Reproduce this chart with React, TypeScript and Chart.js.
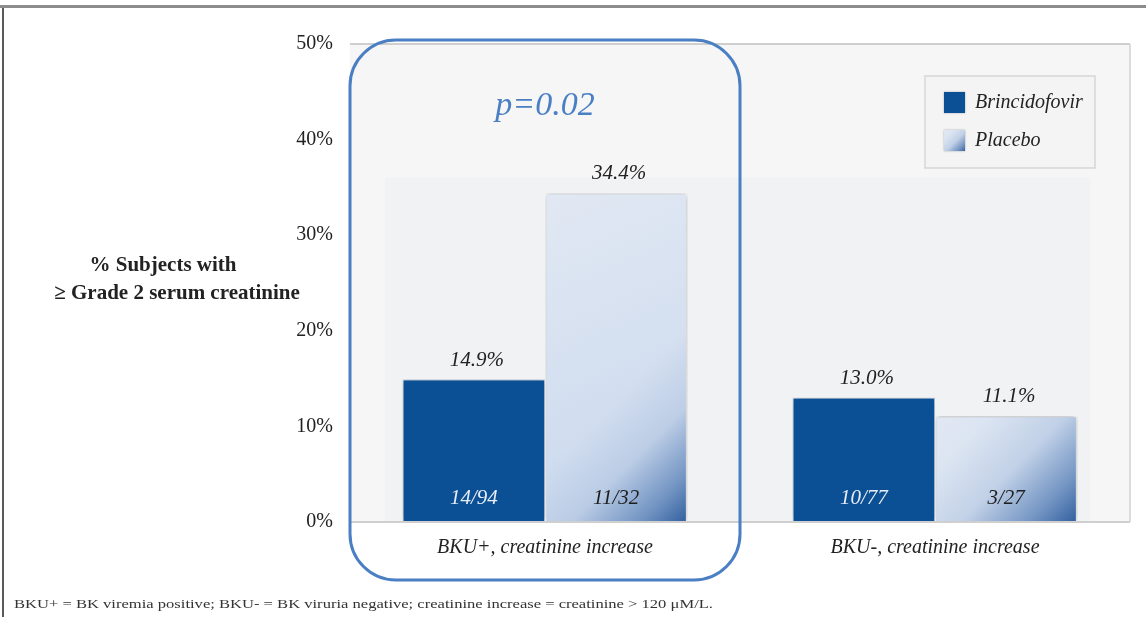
import { useEffect, useRef } from 'react';
import { Chart, registerables } from 'chart.js';

Chart.register(...registerables);

const categories = ['BKU+, creatinine increase', 'BKU-, creatinine increase'];
const seriesNames = ['Brincidofovir', 'Placebo'];
const brincidofovirValues = [14.9, 13.0];
const placeboValues = [34.4, 11.1];
const brincidofovirCounts = ['14/94', '10/77'];
const placeboCounts = ['11/32', '3/27'];
const yTickValues = [0, 10, 20, 30, 40, 50];
const pValueText = 'p=0.02';
const yTitleLines = ['% Subjects with', '\u2265 Grade 2 serum creatinine'];
const footnote =
  'BKU+ = BK viremia positive; BKU- = BK viruria negative; creatinine increase = creatinine > 120 \u03bcM/L.';

const SERIF = "'Liberation Serif', 'Times New Roman', serif";
const DARK_BLUE = '#0b4f94';
const HIGHLIGHT = '#4a7fc4';

function fillPlacebo(ctx: CanvasRenderingContext2D, l: number, t: number, r: number, b: number, d: number) {
  const g1 = ctx.createLinearGradient(l, t, r, b);
  g1.addColorStop(0, '#e1e8f3');
  g1.addColorStop(1, '#c8d7ed');
  ctx.fillStyle = g1;
  ctx.fillRect(l, t, r - l, b - t);
  const g2 = ctx.createLinearGradient(r - d, b - d, r, b);
  g2.addColorStop(0, 'rgba(60,106,168,0)');
  g2.addColorStop(0.4, 'rgba(60,106,168,0.12)');
  g2.addColorStop(0.75, 'rgba(60,106,168,0.6)');
  g2.addColorStop(1, 'rgba(52,97,160,1)');
  ctx.fillStyle = g2;
  ctx.fillRect(l, t, r - l, b - t);
}

const decorPlugin = {
  id: 'decor',
  beforeDraw(chart: any) {
    const { ctx, chartArea, width, height } = chart;
    const y = chart.scales.y;
    ctx.save();
    ctx.fillStyle = '#ffffff';
    ctx.fillRect(0, 0, width, height);
    // page border lines
    ctx.fillStyle = '#8c8c8c';
    ctx.fillRect(0, 5, width, 3);
    ctx.fillStyle = '#5a5a5a';
    ctx.fillRect(2, 8, 2, height - 8);
    // back wall
    ctx.fillStyle = '#f6f6f6';
    ctx.fillRect(chartArea.left, chartArea.top, chartArea.right - chartArea.left, chartArea.bottom - chartArea.top);
    const innerTop = y.getPixelForValue(36);
    ctx.fillStyle = '#f0f2f4';
    ctx.fillRect(chartArea.left + 35, innerTop, chartArea.right - chartArea.left - 75, chartArea.bottom - innerTop);
    ctx.strokeStyle = '#d2d2d2';
    ctx.lineWidth = 1.5;
    ctx.beginPath();
    ctx.moveTo(chartArea.right, chartArea.top);
    ctx.lineTo(chartArea.right, chartArea.bottom);
    ctx.stroke();
    // y title
    ctx.fillStyle = '#222';
    ctx.font = `bold 21px ${SERIF}`;
    ctx.textAlign = 'center';
    ctx.textBaseline = 'middle';
    ctx.fillText(yTitleLines[0], 163, 266);
    ctx.fillText(yTitleLines[1], 177, 294);
    // footnote (stretched horizontally like the source)
    ctx.font = `13px ${SERIF}`;
    ctx.textAlign = 'left';
    ctx.textBaseline = 'middle';
    ctx.fillStyle = '#333';
    const fw = ctx.measureText(footnote).width;
    ctx.translate(14, 605);
    ctx.scale(699 / fw, 1);
    ctx.fillText(footnote, 0, 0);
    ctx.restore();
  },
  beforeDatasetDraw(chart: any) {
    const ctx = chart.ctx;
    ctx.save();
    ctx.shadowColor = 'rgba(0,0,0,0.4)';
    ctx.shadowBlur = 5;
    ctx.shadowOffsetX = 0;
    ctx.shadowOffsetY = 0;
  },
  afterDatasetDraw(chart: any, args: any) {
    const ctx = chart.ctx;
    ctx.restore();
    if (args.index === 1) {
      const meta = chart.getDatasetMeta(1);
      meta.data.forEach((el: any) => {
        const { x, y, base, width } = el.getProps(['x', 'y', 'base', 'width'], true);
        const l = x - width / 2 + 1.5;
        const r = x + width / 2 - 1.5;
        ctx.save();
        fillPlacebo(ctx, l, y + 1.5, r, base, 95);
        ctx.restore();
      });
    }
  },
  afterDraw(chart: any) {
    const { ctx, chartArea } = chart;
    const xs = chart.scales.x;
    ctx.save();
    // value and count labels
    const counts = [brincidofovirCounts, placeboCounts];
    [0, 1].forEach((di) => {
      const meta = chart.getDatasetMeta(di);
      const ds = chart.data.datasets[di];
      meta.data.forEach((el: any, i: number) => {
        const { x, y, base } = el.getProps(['x', 'y', 'base'], true);
        ctx.font = `italic 21px ${SERIF}`;
        ctx.textAlign = 'center';
        ctx.textBaseline = 'alphabetic';
        ctx.fillStyle = '#222';
        ctx.fillText(`${(ds.data[i] as number).toFixed(1)}%`, x + 3, y - 14);
        ctx.fillStyle = di === 0 ? '#e6edf6' : '#1e1e1e';
        ctx.fillText(counts[di][i], x, base - 17);
      });
    });
    // highlight rounded rectangle around first category
    const c0 = xs.getPixelForValue(0);
    const half = (xs.getPixelForValue(1) - c0) / 2;
    const rx = c0 - half;
    const rw = half * 2;
    const ry = chartArea.top - 4;
    const rh = 580 - ry;
    ctx.strokeStyle = HIGHLIGHT;
    ctx.lineWidth = 3;
    ctx.beginPath();
    (ctx as any).roundRect(rx, ry, rw, rh, 46);
    ctx.stroke();
    ctx.font = `italic 34px ${SERIF}`;
    ctx.fillStyle = HIGHLIGHT;
    ctx.textAlign = 'center';
    ctx.textBaseline = 'middle';
    ctx.fillText(pValueText, c0, 106);
    // legend
    const lx = chartArea.right - 205;
    const ly = chartArea.top + 32;
    ctx.fillStyle = '#f4f4f4';
    ctx.fillRect(lx, ly, 170, 92);
    ctx.strokeStyle = '#d6d6d6';
    ctx.lineWidth = 1.5;
    ctx.strokeRect(lx, ly, 170, 92);
    seriesNames.forEach((name, i) => {
      const sx = lx + 19;
      const sy = ly + 16 + i * 38;
      ctx.save();
      ctx.shadowColor = 'rgba(0,0,0,0.3)';
      ctx.shadowBlur = 2;
      ctx.fillStyle = '#ffffff';
      ctx.fillRect(sx, sy, 21, 21);
      ctx.restore();
      if (i === 0) {
        ctx.fillStyle = DARK_BLUE;
        ctx.fillRect(sx, sy, 21, 21);
      } else {
        fillPlacebo(ctx, sx, sy, sx + 21, sy + 21, 16);
      }
      ctx.fillStyle = '#222';
      ctx.font = `italic 20px ${SERIF}`;
      ctx.textAlign = 'left';
      ctx.textBaseline = 'middle';
      ctx.fillText(name, sx + 31, sy + 11);
    });
    ctx.restore();
  },
};

export default function App() {
  const ref = useRef<HTMLCanvasElement | null>(null);
  useEffect(() => {
    document.body.style.margin = '0';
    if (!ref.current) return;
    const chart = new Chart(ref.current, {
      type: 'bar',
      data: {
        labels: categories,
        datasets: [
          {
            label: seriesNames[0],
            data: brincidofovirValues,
            backgroundColor: DARK_BLUE,
            borderColor: 'rgba(170,195,228,0.8)',
            borderWidth: 1,
            categoryPercentage: 0.73,
            barPercentage: 1,
          },
          {
            label: seriesNames[1],
            data: placeboValues,
            backgroundColor: '#d3dff0',
            borderColor: 'rgba(255,255,255,0.9)',
            borderWidth: 1.5,
            categoryPercentage: 0.73,
            barPercentage: 1,
          },
        ],
      },
      options: {
        responsive: false,
        animation: false,
        layout: { padding: { left: 0, right: 16, top: 44, bottom: 0 } },
        plugins: {
          legend: { display: false },
          tooltip: { enabled: false },
          title: { display: false },
        },
        scales: {
          x: {
            grid: { display: false, drawTicks: false },
            border: { display: false },
            ticks: {
              padding: 14,
              color: '#222',
              font: { family: SERIF, size: 20, style: 'italic' },
            },
            afterFit(scale: any) {
              scale.height = 95;
            },
          },
          y: {
            min: 0,
            max: 50,
            afterBuildTicks(scale: any) {
              scale.ticks = yTickValues.map((v) => ({ value: v }));
            },
            grid: {
              drawTicks: false,
              color: (c: any) =>
                c.tick && (c.tick.value === 0 || c.tick.value === 50) ? '#cfcfcf' : 'rgba(0,0,0,0)',
              lineWidth: 2,
            },
            border: { display: false },
            ticks: {
              padding: 17,
              color: '#222',
              font: { family: SERIF, size: 20 },
              callback: (v: any) => `${v}%`,
            },
            afterFit(scale: any) {
              scale.width = 350;
            },
          },
        },
      },
      plugins: [decorPlugin],
    });
    return () => chart.destroy();
  }, []);
  return (
    <div style={{ position: 'fixed', left: 0, top: 0, width: 1146, height: 617 }}>
      <canvas ref={ref} width={1146} height={617} />
    </div>
  );
}
